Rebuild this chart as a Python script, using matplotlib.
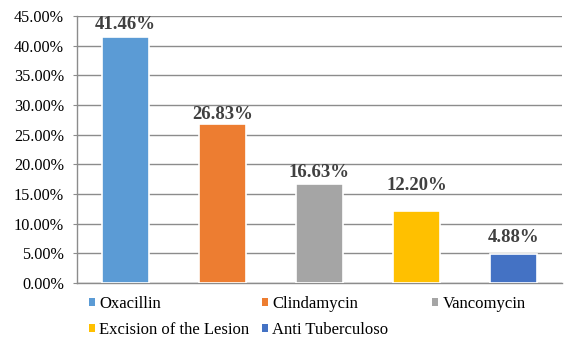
import matplotlib
matplotlib.use("Agg")
import matplotlib.pyplot as plt
from matplotlib.patches import Patch

categories = ["Oxacillin", "Clindamycin", "Vancomycin", "Excision of the Lesion", "Anti Tuberculoso"]
values = [41.46, 26.83, 16.63, 12.20, 4.88]
colors = ["#5B9BD5", "#ED7D31", "#A5A5A5", "#FFC000", "#4472C4"]
yticks = [0, 5, 10, 15, 20, 25, 30, 35, 40, 45]

plt.rcParams["font.family"] = ["Liberation Serif", "DejaVu Serif"]

W, H = 580, 346
fig = plt.figure(figsize=(W / 100, H / 100), dpi=100)
ax = fig.add_axes([77 / W, 1 - 283 / H, (562 - 77) / W, (283 - 16) / H])

x = list(range(len(categories)))
ax.bar(x, values, width=0.48, color=colors, edgecolor="white", linewidth=1.2, zorder=3)

# value labels: baseline raised above each bar top (offsets in points)
label_gaps = [5.8, 3.6, 5.0, 15.0, 8.6]
for xi, v, g in zip(x, values, label_gaps):
    ax.annotate(f"{v:.2f}%", xy=(xi, v), xytext=(0, g), textcoords="offset points",
                ha="center", va="baseline", fontsize=13.5, fontweight="bold",
                color="#404040", zorder=4)

ax.set_xlim(-0.5, len(categories) - 0.5)
ax.set_ylim(0, 45)
ax.set_yticks(yticks)
ax.set_yticklabels([f"{t:.2f}%" for t in yticks], fontsize=11.7, color="#000000")
ax.set_xticks([])
ax.yaxis.grid(True, color="#8c8c8c", linewidth=1.0, zorder=0)
ax.tick_params(axis="y", length=3, color="#8c8c8c", pad=6.5)
for side in ["top", "right"]:
    ax.spines[side].set_visible(False)
for side in ["left", "bottom"]:
    ax.spines[side].set_color("#8c8c8c")
    ax.spines[side].set_linewidth(1.0)

# legend: three equal-width columns, filled row by row
col_x = [89, 262, 432]
row_y = [304, 330]
for i, (cat, c) in enumerate(zip(categories, colors)):
    r, k = divmod(i, 3)
    fig.legend([Patch(facecolor=c, edgecolor="none")], [cat],
               loc="center left", bbox_to_anchor=(col_x[k] / W, 1 - row_y[r] / H),
               frameon=False, fontsize=12, handlelength=0.38, handleheight=0.38,
               handletextpad=0.24, borderaxespad=0, borderpad=0)

fig.savefig("out.png", dpi=100)
